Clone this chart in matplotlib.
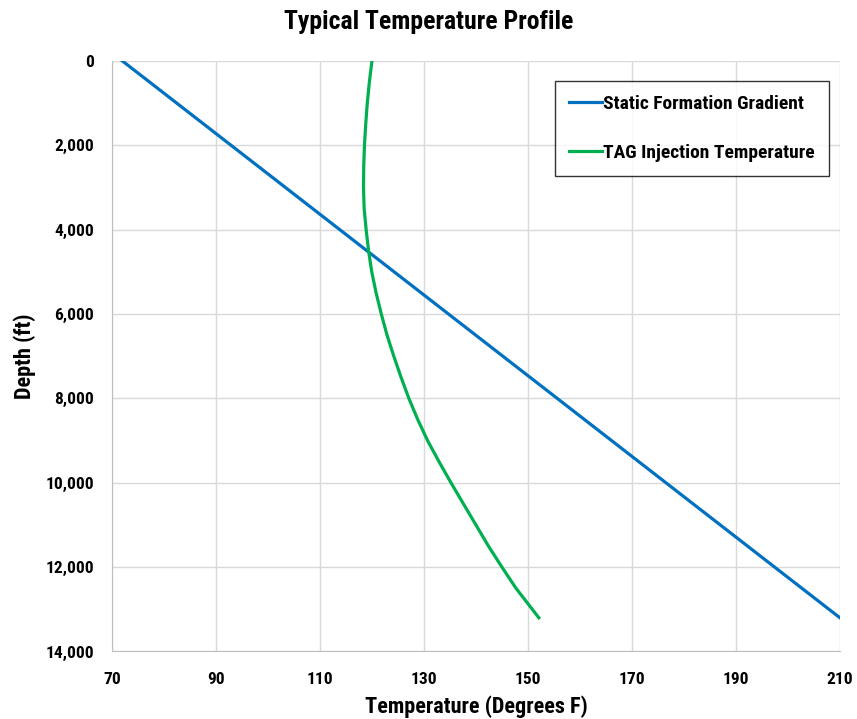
import matplotlib.pyplot as plt
from matplotlib.ticker import FuncFormatter

plt.rcParams['font.family'] = ['Roboto Condensed', 'Liberation Sans', 'DejaVu Sans']
plt.rcParams['font.weight'] = 'bold'

# static formation gradient (straight line)
static_temp = [72, 210]
static_depth = [0, 13200]

# TAG injection temperature
tag_depth = [0, 500, 1000, 1500, 2000, 2500, 3000, 3500, 4000, 4500, 5000, 5500,
             6000, 6500, 7000, 7500, 8000, 8500, 9000, 9500, 10000, 10500, 11000,
             11500, 12000, 12500, 13200]
tag_temp = [120.0, 119.5, 119.1, 118.8, 118.56, 118.42, 118.37, 118.5, 118.88, 119.35, 119.96, 120.8,
            121.8, 122.9, 124.2, 125.6, 127.1, 128.8, 130.7, 132.9, 135.2, 137.6, 140.0,
            142.4, 145.0, 147.7, 152.1]

x_ticks = [70, 90, 110, 130, 150, 170, 190, 210]
y_ticks = [0, 2000, 4000, 6000, 8000, 10000, 12000, 14000]

fig = plt.figure(figsize=(8.57, 7.19), dpi=100)
ax = fig.add_axes([0.1307, 0.0939, 0.8493, 0.8213])

ax.plot(static_temp, static_depth, color='#0070C0', lw=2.3, label='Static Formation Gradient')
ax.plot(tag_temp, tag_depth, color='#00B050', lw=2.3, label='TAG Injection Temperature')

ax.set_xlim(70, 210)
ax.set_ylim(14000, 0)
ax.set_xticks(x_ticks)
ax.set_yticks(y_ticks)
ax.yaxis.set_major_formatter(FuncFormatter(lambda v, p: f'{int(v):,}'))
ax.grid(True, color='#D9D9D9', lw=1)
ax.set_axisbelow(True)
ax.tick_params(axis='y', length=0, labelsize=12.5, pad=13)
ax.tick_params(axis='x', length=0, labelsize=12.5, pad=15)
for s in ['top', 'right']:
    ax.spines[s].set_visible(False)
for s in ['left', 'bottom']:
    ax.spines[s].set_color('#BFBFBF')

ax.set_xlabel('Temperature (Degrees F)', fontsize=16, fontweight='bold', labelpad=6)
ax.set_ylabel('Depth (ft)', fontsize=16, fontweight='bold', labelpad=7)
fig.suptitle('Typical Temperature Profile', x=0.5, y=0.969, va='center',
             fontsize=18.5, fontweight='bold')

leg = ax.legend(loc='upper right', bbox_to_anchor=(0.985, 0.966),
                prop={'weight': 'bold', 'size': 14}, frameon=True, fancybox=False,
                handlelength=1.7, handletextpad=0.05, labelspacing=1.6,
                borderpad=0.72, borderaxespad=0)
leg.get_frame().set_edgecolor('black')
leg.get_frame().set_linewidth(1)

fig.savefig('out.png', dpi=100)
